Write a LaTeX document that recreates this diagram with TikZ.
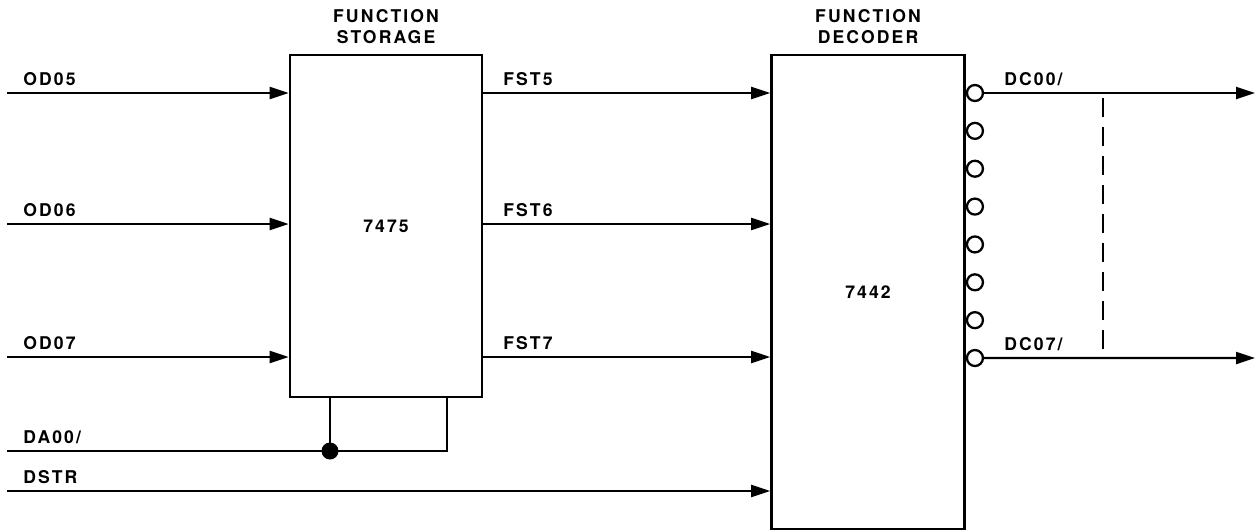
\documentclass[tikz,border=0pt]{standalone}
\usepackage{fontspec}
\setmainfont{TeX Gyre Heros}
\usetikzlibrary{arrows.meta,positioning,calc}
\newcommand{\sigfont}{\fontsize{10}{12}\selectfont\bfseries\addfontfeature{LetterSpace=12}}
\tikzset{
    diagramchip/.style={draw, line width=1.5pt, inner sep=0pt, font=\sigfont},
    diagramtitle/.style={align=center, inner sep=0pt, font=\sigfont},
    diagramlabel/.style={anchor=base west, inner sep=0pt, font=\sigfont},
    diagramwire/.style={line width=1.3pt},
    diagramarrow/.style={-{Triangle[length=3.8mm,width=2.4mm]}, line width=1.3pt},
    diagrambubble/.style={circle, draw, fill=white, line width=1.3pt, inner sep=0pt, minimum size=3.2mm},
    diagramdot/.style={circle, fill, inner sep=0pt, minimum size=3.4mm}
}

\begin{document}
\begin{tikzpicture}[x=0.02cm, y=-0.02cm]
        \useasboundingbox (0,0) rectangle (1257,531);
        \node[diagramchip, minimum width=3.84cm, minimum height=6.84cm] (storage) at (386,226) {7475};
        \node[diagramchip, minimum width=3.86cm, minimum height=9.48cm] (decoder) at (868,292) {7442};
        \node[diagramtitle, above=1.9mm of storage] (storagetitle) {FUNCTION\\STORAGE};
        \node[diagramtitle, above=1.9mm of decoder] (decodertitle) {FUNCTION\\DECODER};
        \foreach \sig/\n/\y in {OD05/5/93, OD06/6/224, OD07/7/357} {
            \coordinate (in\sig) at (7,\y);
            \node[diagramlabel] (l\sig) at (23,\y-8) {\sig};
            \draw[diagramarrow] (in\sig) -- (in\sig -| storage.west);
            \node[diagramlabel] (lfst\n) at (503,\y-8) {FST\n};
            \draw[diagramarrow] (in\sig -| storage.east) -- (in\sig -| decoder.west);
        }
        \coordinate (inDA00) at (7,451);
        \coordinate (inDSTR) at (7,491);
        \node[diagramlabel] (lDA00) at (23,443) {DA00/};
        \node[diagramlabel] (lDSTR) at (23,483) {DSTR};
        \node[diagramdot] (clkdot) at (330,451) {};
        \draw[diagramwire] (inDA00) -| ([xshift=1.22cm]storage.south);
        \draw[diagramwire] (clkdot.center) -- (clkdot |- storage.south);
        \draw[diagramarrow] (inDSTR) -- (inDSTR -| decoder.west);
        \foreach \i in {0,...,7}
            \node[diagrambubble, anchor=west] (q\i) at ($(decoder.east |- inOD05)+(0,\i*37.86)$) {};
        \coordinate (outDC00) at (1255,93);
        \coordinate (outDC07) at (1255,358);
        \draw[diagramarrow] (q0.east) -- (outDC00);
        \draw[diagramarrow] (q7.east) -- (outDC07);
        \node[diagramlabel] (lDC00) at (1004,85) {DC00/};
        \node[diagramlabel] (lDC07) at (1004,350) {DC07/};
        \draw[diagramwire, dash pattern=on 0.38cm off 0.2cm] (1103,98) -- (1103,351);
    \end{tikzpicture}
\end{document}
